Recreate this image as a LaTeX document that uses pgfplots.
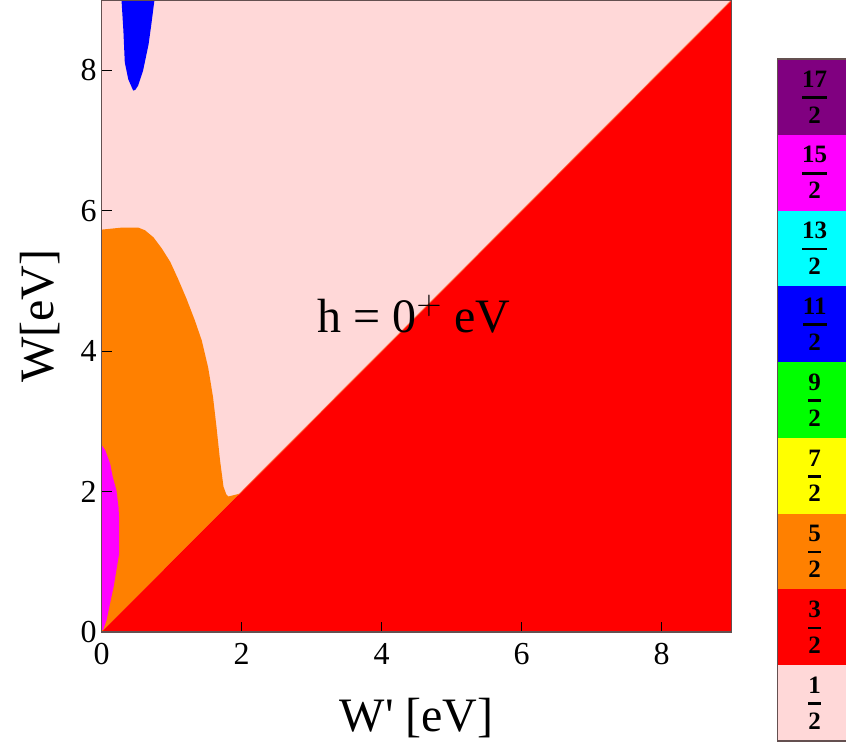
\documentclass[border=0pt]{standalone}
\usepackage{amsmath}
\usepackage{fontspec}
\setmainfont{Liberation Serif}
\usepackage{pgfplots}
\pgfplotsset{compat=1.18}

\definecolor{spinA}{RGB}{255,216,216}   % 1/2
\definecolor{spinB}{RGB}{255,0,0}       % 3/2
\definecolor{spinC}{RGB}{255,128,0}     % 5/2
\definecolor{spinD}{RGB}{255,255,0}     % 7/2
\definecolor{spinE}{RGB}{0,255,0}       % 9/2
\definecolor{spinF}{RGB}{0,0,255}       % 11/2
\definecolor{spinG}{RGB}{0,255,255}     % 13/2
\definecolor{spinH}{RGB}{255,0,255}     % 15/2
\definecolor{spinI}{RGB}{128,0,128}     % 17/2
\definecolor{frameC}{RGB}{100,80,80}

\newcommand{\cfr}[2]{$\genfrac{}{}{1.3pt}{0}{\text{\bfseries #1}}{\text{\bfseries #2}}$}

\begin{document}
\begin{tikzpicture}
\useasboundingbox (-50.85pt,-56pt) rectangle (372.15pt,316pt);

\begin{axis}[
  at={(0,0)}, anchor=south west,
  scale only axis, width=315pt, height=316pt,
  xmin=0, xmax=9, ymin=0, ymax=9,
  xtick={0,2,4,6,8}, ytick={0,2,4,6,8},
  tick align=inside, tick pos=left,
  major tick length=5pt,
  tick style={black, line width=0.5pt},
  axis line style={frameC, line width=0.6pt},
  axis background/.style={fill=spinA},
  axis on top,
  /pgf/number format/assume math mode=true,
  ticklabel style={font=\fontsize{16}{18}\selectfont},
  xticklabel style={yshift=-2pt},
  yticklabel style={xshift=1pt},
  xlabel={W\textquotesingle\ [eV]}, ylabel={W[eV]},
  label style={font=\fontsize{24}{28}\selectfont},
  xlabel style={at={(axis description cs:0.5,0)}, anchor=base, yshift=-49.5pt},
  ylabel style={at={(axis description cs:0,0.5)}, rotate=0, anchor=base, yshift=24pt},
]
% S = 5/2 domain
\addplot[fill=spinC, draw=none] coordinates {
  (0,0) (0,5.73) (0.30,5.76) (0.52,5.76) (0.62,5.72) (0.74,5.62)
  (0.86,5.46) (0.98,5.27) (1.09,5.03) (1.21,4.75) (1.33,4.44)
  (1.43,4.15) (1.52,3.77) (1.59,3.35) (1.64,2.92) (1.69,2.45)
  (1.74,2.07) (1.78,1.96) (1.81,1.93) (1.97,1.97)} -- cycle;
% S = 15/2 domain
\addplot[fill=spinH, draw=none] coordinates {
  (0,0.03) (0,2.66) (0.05,2.59) (0.12,2.4) (0.16,2.2) (0.21,2.02)
  (0.24,1.78) (0.25,1.59) (0.25,1.12) (0.21,0.88) (0.17,0.64)
  (0.12,0.41) (0.07,0.17) (0.02,0.03)} -- cycle;
% S = 11/2 domain
\addplot[fill=spinF, draw=none] coordinates {
  (0.28,9.05) (0.31,8.56) (0.33,8.11) (0.38,7.87) (0.45,7.71)
  (0.48,7.72) (0.52,7.78) (0.59,7.99) (0.67,8.37) (0.71,8.66)
  (0.76,9.05)} -- cycle;
% S = 3/2 domain below W = W'
\addplot[fill=spinB, draw=none] coordinates {(0,0) (9,0) (9,9)} -- cycle;
\addplot[draw={rgb,255:red,255;green,120;blue,60}, line width=0.5pt, opacity=0.6]
  coordinates {(1.95,1.95) (9,9)};
\node[font=\fontsize{24}{28}\selectfont, anchor=base] at (axis cs:4.46,4.26) {h = 0$^{+}$ eV};
\end{axis}

% spin legend bar
\begin{axis}[
  at={(337.8pt,-54.5pt)}, anchor=south west,
  scale only axis, width=39pt, height=341pt,
  xmin=0, xmax=1, ymin=0, ymax=9,
  xtick=\empty, ytick=\empty,
  axis line style={frameC, line width=0.6pt},
  axis on top,
]
\addplot[fill=spinA, draw=none] coordinates {(0,0) (1,0) (1,1) (0,1)} -- cycle;
\addplot[fill=spinB, draw=none] coordinates {(0,1) (1,1) (1,2) (0,2)} -- cycle;
\addplot[fill=spinC, draw=none] coordinates {(0,2) (1,2) (1,3) (0,3)} -- cycle;
\addplot[fill=spinD, draw=none] coordinates {(0,3) (1,3) (1,4) (0,4)} -- cycle;
\addplot[fill=spinE, draw=none] coordinates {(0,4) (1,4) (1,5) (0,5)} -- cycle;
\addplot[fill=spinF, draw=none] coordinates {(0,5) (1,5) (1,6) (0,6)} -- cycle;
\addplot[fill=spinG, draw=none] coordinates {(0,6) (1,6) (1,7) (0,7)} -- cycle;
\addplot[fill=spinH, draw=none] coordinates {(0,7) (1,7) (1,8) (0,8)} -- cycle;
\addplot[fill=spinI, draw=none] coordinates {(0,8) (1,8) (1,9) (0,9)} -- cycle;
\foreach \k/\n in {0/1,1/3,2/5,3/7,4/9,5/11,6/13,7/15,8/17} {
  \edef\tmp{\noexpand\node[font=\noexpand\fontsize{12.5}{14}\noexpand\selectfont] at (axis cs:0.48,\k.5) {\noexpand\cfr{\n}{2}};}
  \tmp
}
\end{axis}
\end{tikzpicture}
\end{document}
